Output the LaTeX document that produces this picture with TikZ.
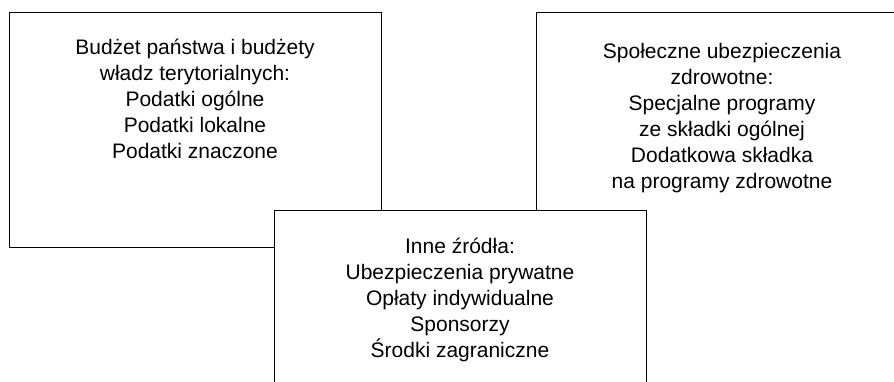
\documentclass[tikz,border=0pt]{standalone}
\usepackage{fontspec}
\setmainfont{Liberation Sans}

\tikzset{
  zrodlo/.style={draw=black, line width=1pt, fill=white, inner sep=0pt},
  opis/.style={anchor=north, align=center, inner sep=0pt, font=\fontsize{21}{26}\selectfont},
}

\begin{document}
\begin{tikzpicture}[x=1pt, y=-1pt]
        \useasboundingbox (0,0) rectangle (894,382);

        % ramki
        \node[zrodlo, minimum width=371.5pt, minimum height=234.5pt] (budzet) at (195.25, 129.75) {};
        \node[zrodlo, minimum width=394pt, minimum height=417.5pt] (ubezp) at (733, 221.25) {};
        \node[zrodlo, minimum width=372pt, minimum height=209pt] (inne) at (460, 315.5) {};

        % teksty
        \node[opis] (budzetT) at (195, 39) {Budżet państwa i budżety\\władz terytorialnych:\\Podatki ogólne\\Podatki lokalne\\Podatki znaczone};
        \node[opis] (ubezpT) at (722, 43) {Społeczne ubezpieczenia\\zdrowotne:\\Specjalne programy\\ze składki ogólnej\\Dodatkowa składka\\na programy zdrowotne};
        \node[opis] (inneT) at (460, 238) {Inne źródła:\\Ubezpieczenia prywatne\\Opłaty indywidualne\\Sponsorzy\\Środki zagraniczne};
    \end{tikzpicture}
\end{document}
